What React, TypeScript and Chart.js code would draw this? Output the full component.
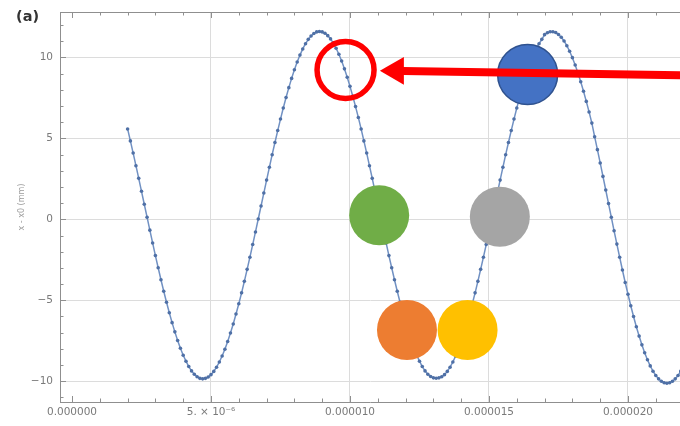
import { useEffect, useRef } from "react";
import { Chart, registerables } from "chart.js";

Chart.register(...registerables);

// sample times (microseconds)
const timeUs = [
  2.0, 2.1, 2.2, 2.3, 2.4, 2.5, 2.6, 2.7, 2.8, 2.9,
  3.0, 3.1, 3.2, 3.3, 3.4, 3.5, 3.6, 3.7, 3.8, 3.9,
  4.0, 4.1, 4.2, 4.3, 4.4, 4.5, 4.6, 4.7, 4.8, 4.9,
  5.0, 5.1, 5.2, 5.3, 5.4, 5.5, 5.6, 5.7, 5.8, 5.9,
  6.0, 6.1, 6.2, 6.3, 6.4, 6.5, 6.6, 6.7, 6.8, 6.9,
  7.0, 7.1, 7.2, 7.3, 7.4, 7.5, 7.6, 7.7, 7.8, 7.9,
  8.0, 8.1, 8.2, 8.3, 8.4, 8.5, 8.6, 8.7, 8.8, 8.9,
  9.0, 9.1, 9.2, 9.3, 9.4, 9.5, 9.6, 9.7, 9.8, 9.9,
  10.0, 10.1, 10.2, 10.3, 10.4, 10.5, 10.6, 10.7, 10.8, 10.9,
  11.0, 11.1, 11.2, 11.3, 11.4, 11.5, 11.6, 11.7, 11.8, 11.9,
  12.0, 12.1, 12.2, 12.3, 12.4, 12.5, 12.6, 12.7, 12.8, 12.9,
  13.0, 13.1, 13.2, 13.3, 13.4, 13.5, 13.6, 13.7, 13.8, 13.9,
  14.0, 14.1, 14.2, 14.3, 14.4, 14.5, 14.6, 14.7, 14.8, 14.9,
  15.0, 15.1, 15.2, 15.3, 15.4, 15.5, 15.6, 15.7, 15.8, 15.9,
  16.0, 16.1, 16.2, 16.3, 16.4, 16.5, 16.6, 16.7, 16.8, 16.9,
  17.0, 17.1, 17.2, 17.3, 17.4, 17.5, 17.6, 17.7, 17.8, 17.9,
  18.0, 18.1, 18.2, 18.3, 18.4, 18.5, 18.6, 18.7, 18.8, 18.9,
  19.0, 19.1, 19.2, 19.3, 19.4, 19.5, 19.6, 19.7, 19.8, 19.9,
  20.0, 20.1, 20.2, 20.3, 20.4, 20.5, 20.6, 20.7, 20.8, 20.9,
  21.0, 21.1, 21.2, 21.3, 21.4, 21.5, 21.6, 21.7, 21.8, 21.9,
];

// x - x0 (mm)
const displacementMm = [
  5.58, 4.84, 4.09, 3.31, 2.53, 1.73, 0.93, 0.13, -0.67, -1.46,
  -2.24, -2.99, -3.73, -4.44, -5.12, -5.77, -6.38, -6.95, -7.48, -7.96,
  -8.39, -8.76, -9.09, -9.36, -9.57, -9.72, -9.82, -9.85, -9.82, -9.74,
  -9.59, -9.39, -9.13, -8.81, -8.44, -8.02, -7.54, -7.02, -6.46, -5.85,
  -5.21, -4.54, -3.83, -3.09, -2.34, -1.56, -0.78, 0.02, 0.82, 1.62,
  2.42, 3.21, 3.99, 4.74, 5.48, 6.19, 6.87, 7.52, 8.13, 8.70,
  9.23, 9.71, 10.14, 10.52, 10.84, 11.11, 11.32, 11.47, 11.57, 11.60,
  11.57, 11.49, 11.34, 11.14, 10.88, 10.56, 10.19, 9.77, 9.29, 8.77,
  8.21, 7.60, 6.96, 6.29, 5.58, 4.84, 4.09, 3.31, 2.53, 1.73,
  0.93, 0.13, -0.67, -1.46, -2.24, -2.99, -3.73, -4.44, -5.12, -5.77,
  -6.38, -6.95, -7.48, -7.96, -8.39, -8.76, -9.09, -9.36, -9.57, -9.71,
  -9.79, -9.81, -9.79, -9.72, -9.59, -9.39, -9.13, -8.81, -8.44, -8.02,
  -7.54, -7.02, -6.46, -5.85, -5.21, -4.54, -3.83, -3.09, -2.34, -1.56,
  -0.78, 0.02, 0.82, 1.62, 2.42, 3.21, 3.99, 4.74, 5.48, 6.19,
  6.87, 7.52, 8.13, 8.70, 9.23, 9.71, 10.14, 10.52, 10.84, 11.11,
  11.40, 11.52, 11.58, 11.58, 11.53, 11.41, 11.24, 11.01, 10.72, 10.38,
  9.98, 9.53, 9.03, 8.49, 7.91, 7.28, 6.63, 5.94, 5.10, 4.30,
  3.48, 2.65, 1.81, 0.97, 0.13, -0.71, -1.53, -2.34, -3.13, -3.90,
  -4.63, -5.34, -6.00, -6.63, -7.21, -7.75, -8.24, -8.67, -9.05, -9.38,
  -9.64, -9.85, -10.00, -10.09, -10.12, -10.09, -10.00, -9.85, -9.64, -9.38,
];

const xTickValues = [0, 5, 10, 15, 20];
const xTickLabels = ["0.000000", "5. \u00d7 10\u207b\u2076", "0.000010", "0.000015", "0.000020"];
const yTickValues = [-10, -5, 0, 5, 10];
const yTickLabels = ["\u221210", "\u22125", "0", "5", "10"];
const xMinorTicks = [0, 1, 2, 3, 4, 5, 6, 7, 8, 9, 10, 11, 12, 13, 14, 15, 16, 17, 18, 19, 20, 21];
const yMinorTicks = [-11, -10, -9, -8, -7, -6, -5, -4, -3, -2, -1, 0, 1, 2, 3, 4, 5, 6, 7, 8, 9, 10, 11, 12];

// overlay annotations, in data coordinates (us, mm)
const discX = [11.05, 15.39, 12.05, 14.23, 16.39];
const discY = [0.25, 0.16, -6.83, -6.83, 8.94];
const ringX = [9.84];
const ringY = [9.22];
const arrowX = [11.9, 22.3];
const arrowY = [9.15, 8.88];
const arrowHeadX = [11.65];
const arrowHeadY = [9.17];

const frameTicks = {
  id: "frameTicks",
  beforeDatasetsDraw(chart: any) {
    const { ctx, chartArea, scales } = chart;
    const { left, right, top, bottom } = chartArea;
    ctx.save();
    ctx.strokeStyle = "#8f8f8f";
    ctx.lineWidth = 1;
    ctx.beginPath();
    ctx.moveTo(left, top + 0.5);
    ctx.lineTo(right, top + 0.5);
    for (const v of xMinorTicks) {
      const px = Math.round(scales.x.getPixelForValue(v)) + 0.5;
      const len = xTickValues.includes(v) ? 6 : 3.5;
      ctx.moveTo(px, bottom);
      ctx.lineTo(px, bottom - len);
      ctx.moveTo(px, top);
      ctx.lineTo(px, top + len);
    }
    for (const v of yMinorTicks) {
      const py = Math.round(scales.y.getPixelForValue(v)) + 0.5;
      const len = yTickValues.includes(v) ? 6 : 3.5;
      ctx.moveTo(left, py);
      ctx.lineTo(left + len, py);
    }
    ctx.stroke();
    ctx.restore();
  },
};

function zeroPadding(s: any) {
  s.paddingLeft = 0;
  s.paddingRight = 0;
  s.paddingTop = 0;
  s.paddingBottom = 0;
}

export default function App() {
  const ref = useRef<HTMLCanvasElement>(null);

  useEffect(() => {
    if (!ref.current) return;
    const font = { family: "'DejaVu Sans', sans-serif", size: 10.5 };
    const chart = new Chart(ref.current, {
      type: "scatter",
      data: {
        datasets: [
          {
            type: "line",
            data: arrowX.map((x, i) => ({ x, y: arrowY[i] })),
            borderColor: "#FF0000",
            borderWidth: 8,
            pointRadius: 0,
            order: 0,
          } as any,
          {
            type: "scatter",
            data: arrowHeadX.map((x, i) => ({ x, y: arrowHeadY[i] })),
            pointStyle: "triangle",
            pointRadius: 16,
            pointRotation: -90,
            backgroundColor: "#FF0000",
            borderColor: "#FF0000",
            borderWidth: 0,
            order: 0,
          } as any,
          {
            type: "bubble",
            data: ringX.map((x, i) => ({ x, y: ringY[i], r: 28.5 })),
            backgroundColor: "rgba(0,0,0,0)",
            borderColor: "#FF0000",
            borderWidth: 5.5,
            order: 1,
          } as any,
          {
            type: "bubble",
            data: discX.map((x, i) => ({ x, y: discY[i], r: 30 })),
            backgroundColor: ["#70AD47", "#A5A5A5", "#ED7D31", "#FFC000", "#4472C4"],
            borderColor: ["#70AD47", "#A5A5A5", "#ED7D31", "#FFC000", "#2F528F"],
            borderWidth: [0, 0, 0, 0, 1.5],
            order: 2,
          } as any,
          {
            type: "line",
            data: timeUs.map((t, i) => ({ x: t, y: displacementMm[i] })),
            borderColor: "#7191C3",
            borderWidth: 1.5,
            pointRadius: 1.8,
            pointBackgroundColor: "#4F70A6",
            pointBorderWidth: 0,
            tension: 0,
            order: 3,
          } as any,
        ],
      },
      options: {
        animation: false,
        responsive: false,
        devicePixelRatio: 1,
        events: [],
        layout: { autoPadding: false, padding: { top: 12, right: 0, bottom: 0, left: 0 } },
        plugins: { legend: { display: false }, tooltip: { enabled: false } },
        scales: {
          x: {
            type: "linear",
            min: -0.4317,
            max: 21.871,
            afterFit: (s: any) => {
              s.height = 24;
              zeroPadding(s);
            },
            afterBuildTicks: (s: any) => {
              s.ticks = xTickValues.map((value) => ({ value }));
            },
            ticks: {
              callback: (v: any) => {
                const i = xTickValues.indexOf(Number(v));
                return i >= 0 ? xTickLabels[i] : "";
              },
              color: "#7a7a7a",
              font,
              padding: 4,
              maxRotation: 0,
              autoSkip: false,
            },
            grid: {
              color: (c: any) => (c.tick && c.tick.value === 0 ? "rgba(0,0,0,0)" : "#dcdcdc"),
              drawTicks: false,
            },
            border: { color: "#8f8f8f", width: 1 },
          },
          y: {
            type: "linear",
            min: -11.28,
            max: 12.8,
            afterFit: (s: any) => {
              s.width = 60;
              zeroPadding(s);
            },
            afterBuildTicks: (s: any) => {
              s.ticks = yTickValues.map((value) => ({ value }));
            },
            ticks: {
              callback: (v: any) => {
                const i = yTickValues.indexOf(Number(v));
                return i >= 0 ? yTickLabels[i] : "";
              },
              color: "#7a7a7a",
              font,
              padding: 7,
              autoSkip: false,
            },
            grid: { color: "#dcdcdc", drawTicks: false },
            border: { color: "#8f8f8f", width: 1 },
            title: {
              display: true,
              text: "x - x0 (mm)",
              color: "#9a9a9a",
              font: { family: "'DejaVu Sans', sans-serif", size: 8 },
              padding: { top: 17, bottom: 0 },
            },
          },
        },
      },
      plugins: [frameTicks],
    } as any);
    return () => chart.destroy();
  }, []);

  return (
    <div
      style={{
        position: "fixed",
        left: 0,
        top: 0,
        width: 680,
        height: 426,
        background: "#ffffff",
        overflow: "hidden",
      }}
    >
      <canvas ref={ref} width={680} height={426} style={{ display: "block" }} />
      <div
        style={{
          position: "absolute",
          left: 16,
          top: 8,
          fontFamily: "'DejaVu Sans', sans-serif",
          fontWeight: "bold",
          fontSize: 14.5,
          color: "#333333",
        }}
      >
        (a)
      </div>
    </div>
  );
}
